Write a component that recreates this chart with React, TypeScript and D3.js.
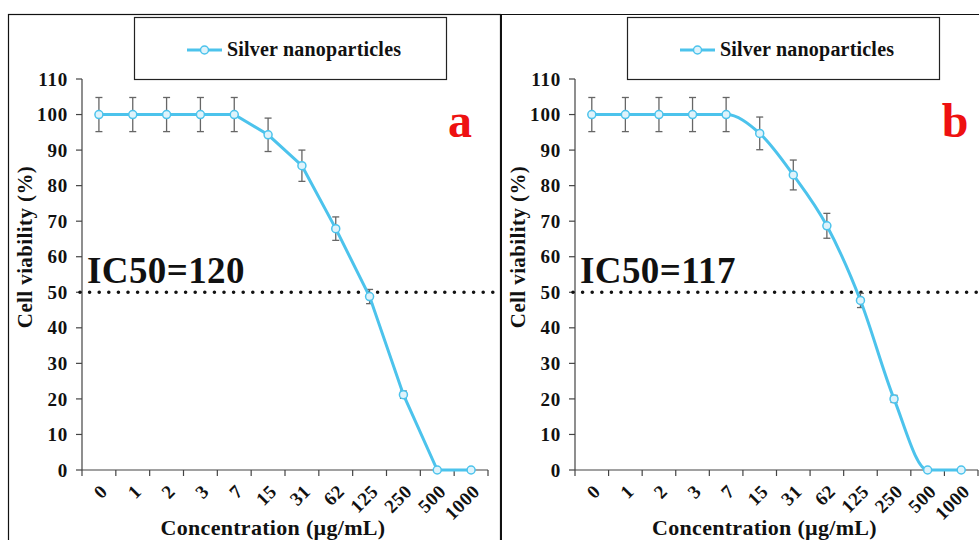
import React from 'react';
import * as d3 from 'd3';

// concentrations (µg/mL)
const concentrations = ['0', '1', '2', '3', '7', '15', '31', '62', '125', '250', '500', '1000'];

// panel a
const viabilityA = [100, 100, 100, 100, 100, 94.3, 85.6, 67.9, 48.8, 21.2, 0, 0];
const errorA = [4.8, 4.8, 4.8, 4.8, 4.8, 4.7, 4.4, 3.3, 2, 1, 0, 0];

// panel b
const viabilityB = [100, 100, 100, 100, 100, 94.7, 83.0, 68.7, 47.7, 20.0, 0, 0];
const errorB = [4.8, 4.8, 4.8, 4.8, 4.8, 4.6, 4.2, 3.5, 2, 1, 0, 0];

const yTicks = [0, 10, 20, 30, 40, 50, 60, 70, 80, 90, 100, 110];

const SERIF = '"Liberation Serif", "Times New Roman", serif';
const LINE = '#4cc3ec';

type PanelProps = {
  left: number;
  right: number;
  values: number[];
  errors: number[];
  ic50: string;
  letter: string;
  letterX: number;
  smooth: boolean;
};

const Panel = ({left, right, values, errors, ic50, letter, letterX, smooth}: PanelProps) => {
  const x = d3.scaleBand<string>().domain(concentrations).range([left, right]).padding(0);
  const y = d3.scaleLinear().domain([0, 110]).range([470, 79]);
  const cx = (c: string) => (x(c) as number) + x.bandwidth() / 2;

  const line = d3.line<number>()
    .x((d, i) => cx(concentrations[i]))
    .y(d => y(d))
    .curve(smooth ? d3.curveMonotoneX : d3.curveLinear);

  const legendX = left + 52;
  const boundaries = concentrations.map(c => x(c) as number).concat([right]);
  const axisMid = (left + right) / 2 - 12;

  return (
    <g>
      {/* legend */}
      <rect x={legendX + 0.5} y={17.5} width={312} height={62} fill="white" stroke="#222" strokeWidth={1.2} />
      <line x1={legendX + 53} x2={legendX + 88} y1={50} y2={50} stroke={LINE} strokeWidth={3} />
      <circle cx={legendX + 70.5} cy={50} r={4} fill="#dff3fb" stroke={LINE} strokeWidth={1.5} />
      <text x={legendX + 93} y={56} fontFamily={SERIF} fontWeight="bold" fontSize={20} letterSpacing={0.2} fill="#111">Silver nanoparticles</text>

      {/* y axis */}
      <line x1={left} x2={left} y1={y(0)} y2={y(110)} stroke="#444" strokeWidth={1.2} />
      {yTicks.map(t => (
        <g key={t}>
          <line x1={left - 6} x2={left} y1={y(t)} y2={y(t)} stroke="#444" strokeWidth={1.2} />
          <text x={left - 14} y={y(t)} dy="0.35em" textAnchor="end" fontFamily={SERIF} fontWeight="bold" fontSize={19} letterSpacing={0.8} fill="#111">{t}</text>
        </g>
      ))}
      <text transform={`translate(${left - 50},247) rotate(-90)`} textAnchor="middle" fontFamily={SERIF} fontWeight="bold" fontSize={21} letterSpacing={0.4} fill="#111">Cell viability (%)</text>

      {/* x axis */}
      <line x1={left} x2={right} y1={y(0)} y2={y(0)} stroke="#444" strokeWidth={1.2} />
      {boundaries.map((b, i) => (
        <line key={i} x1={b} x2={b} y1={y(0)} y2={y(0) + 6} stroke="#444" strokeWidth={1.2} />
      ))}
      {concentrations.map(c => (
        <text key={c} transform={`translate(${cx(c) + 5},${y(0) + 18}) rotate(-45)`} textAnchor="end" dy="0.35em" fontFamily={SERIF} fontWeight="bold" fontSize={19} letterSpacing={0.5} fill="#111">{c}</text>
      ))}
      <text x={axisMid} y={535} textAnchor="middle" fontFamily={SERIF} fontWeight="bold" fontSize={22} letterSpacing={0.3} fill="#111">Concentration (µg/mL)</text>

      {/* IC50 */}
      <text x={left + 5} y={283} fontFamily={SERIF} fontWeight="bold" fontSize={37} letterSpacing={0.4} fill="#111">{ic50}</text>
      <line x1={left - 2} x2={right + 6} y1={y(50)} y2={y(50)} stroke="#111" strokeWidth={3.6} strokeLinecap="round" strokeDasharray="0 9.6" />

      {/* error bars */}
      {values.map((v, i) => {
        const e = errors[i];
        if (!e) return null;
        const px = cx(concentrations[i]);
        return (
          <g key={i} stroke="#666" strokeWidth={1.3}>
            <line x1={px} x2={px} y1={y(v + e)} y2={y(v - e)} />
            <line x1={px - 3.5} x2={px + 3.5} y1={y(v + e)} y2={y(v + e)} />
            <line x1={px - 3.5} x2={px + 3.5} y1={y(v - e)} y2={y(v - e)} />
          </g>
        );
      })}

      <path d={line(values) as string} fill="none" stroke={LINE} strokeWidth={3} />
      {values.map((v, i) => (
        <circle key={i} cx={cx(concentrations[i])} cy={y(v)} r={4} fill="#dff3fb" stroke={LINE} strokeWidth={1.5} />
      ))}

      <text x={letterX} y={137} textAnchor="middle" fontFamily={SERIF} fontWeight="bold" fontSize={48} fill="#ee1111">{letter}</text>
    </g>
  );
};

export default function App() {
  return (
    <svg width={979} height={540} style={{position: 'absolute', left: 0, top: 0, background: 'white'}}>
      <rect x={0} y={0} width={979} height={540} fill="white" />
      {/* panel frames */}
      <rect x={8.5} y={14.5} width={492} height={540} fill="none" stroke="#111" strokeWidth={1.2} />
      <line x1={501} x2={501} y1={14} y2={540} stroke="#111" strokeWidth={2} />
      <line x1={501} x2={979} y1={14.5} y2={14.5} stroke="#111" strokeWidth={1.2} />
      <Panel left={82} right={488} values={viabilityA} errors={errorA} ic50="IC50=120" letter="a" letterX={460} smooth={false} />
      <Panel left={575} right={978} values={viabilityB} errors={errorB} ic50="IC50=117" letter="b" letterX={955} smooth={true} />
    </svg>
  );
}
